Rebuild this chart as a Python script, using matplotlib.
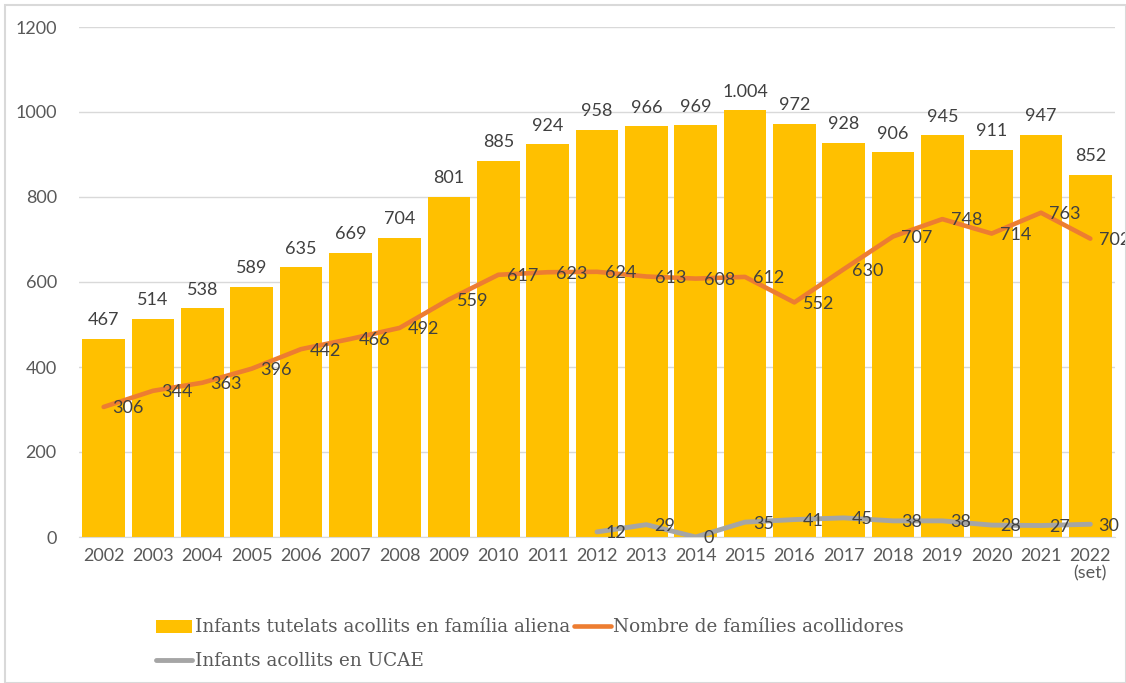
import numpy as np
import matplotlib.pyplot as plt
from matplotlib.patches import Rectangle

plt.rcParams['font.family'] = ['Lato', 'DejaVu Sans']

anys = ['2002', '2003', '2004', '2005', '2006', '2007', '2008', '2009', '2010', '2011',
        '2012', '2013', '2014', '2015', '2016', '2017', '2018', '2019', '2020', '2021',
        '2022\n(set)']
infants_tutelats = [467, 514, 538, 589, 635, 669, 704, 801, 885, 924,
                    958, 966, 969, 1004, 972, 928, 906, 945, 911, 947, 852]
families = [306, 344, 363, 396, 442, 466, 492, 559, 617, 623,
            624, 613, 608, 612, 552, 630, 707, 748, 714, 763, 702]
# UCAE nomes des de 2012
ucae_anys = list(range(10, 21))
ucae = [12, 29, 0, 35, 41, 45, 38, 38, 28, 27, 30]

groc = '#FFC000'
taronja = '#ED7D31'
gris = '#A5A5A5'
text_col = '#595959'
etiq_col = '#404040'

def fmt(v):
    return '{:,}'.format(v).replace(',', '.')

fig = plt.figure(figsize=(11.26, 6.83), dpi=100)
ax = fig.add_axes([79 / 1126, 146 / 683, 1036 / 1126, 510 / 683])
x = np.arange(len(anys))

bars = ax.bar(x, infants_tutelats, width=0.87, color=groc, zorder=2)
l_fam, = ax.plot(x, families, color=taronja, lw=3.3, zorder=3, solid_capstyle='round')
l_ucae, = ax.plot(ucae_anys, ucae, color=gris, lw=3.5, zorder=3, solid_capstyle='round')

for xi, v in zip(x, infants_tutelats):
    ax.annotate(fmt(v), (xi, v), xytext=(0, 7.5), textcoords='offset points',
                ha='center', va='bottom', fontsize=13, color=etiq_col)
for xi, v in zip(x, families):
    ax.annotate(fmt(v), (xi, v), xytext=(6, -1), textcoords='offset points',
                ha='left', va='center', fontsize=13, color=etiq_col, zorder=4)
for xi, v in zip(ucae_anys, ucae):
    ax.annotate(fmt(v), (xi, v), xytext=(6, -1), textcoords='offset points',
                ha='left', va='center', fontsize=13, color=etiq_col, zorder=4,
                annotation_clip=False)

ax.set_xlim(-0.5, len(anys) - 0.5)
ax.set_ylim(0, 1200)
ax.set_yticks(range(0, 1201, 200))
ax.set_xticks(x)
ax.set_xticklabels(anys)
ax.yaxis.grid(True, color='#D9D9D9', lw=1, zorder=0)
ax.set_axisbelow(True)
for s in ['left', 'right', 'top']:
    ax.spines[s].set_visible(False)
ax.spines['bottom'].set_color('#D9D9D9')
ax.tick_params(length=0, labelsize=13, labelcolor=text_col)
ax.tick_params(axis='y', pad=16)
ax.tick_params(axis='x', pad=8)
ax.get_xticklabels()[-1].set_linespacing(1.1)

# dues columnes: barra i gris a la primera, taronja a la segona
leg = fig.legend([bars, l_ucae, l_fam],
                 ['Infants tutelats acollits en família aliena',
                  'Infants acollits en UCAE',
                  'Nombre de famílies acollidores'],
                 loc='upper left', bbox_to_anchor=(139 / 1126, 1 - 602 / 683),
                 ncol=2, frameon=False, handlelength=2.0, handletextpad=0.15,
                 columnspacing=0.2, labelspacing=0.85,
                 prop={'family': 'DejaVu Serif', 'size': 13.2})
for t in leg.get_texts():
    t.set_color(text_col)

fig.patches.append(Rectangle((5 / 1126, 0), 1 - 5 / 1126, 1 - 5 / 683,
                             transform=fig.transFigure, fill=False,
                             edgecolor='#D9D9D9', lw=1.5))

fig.savefig('out.png', dpi=100)
